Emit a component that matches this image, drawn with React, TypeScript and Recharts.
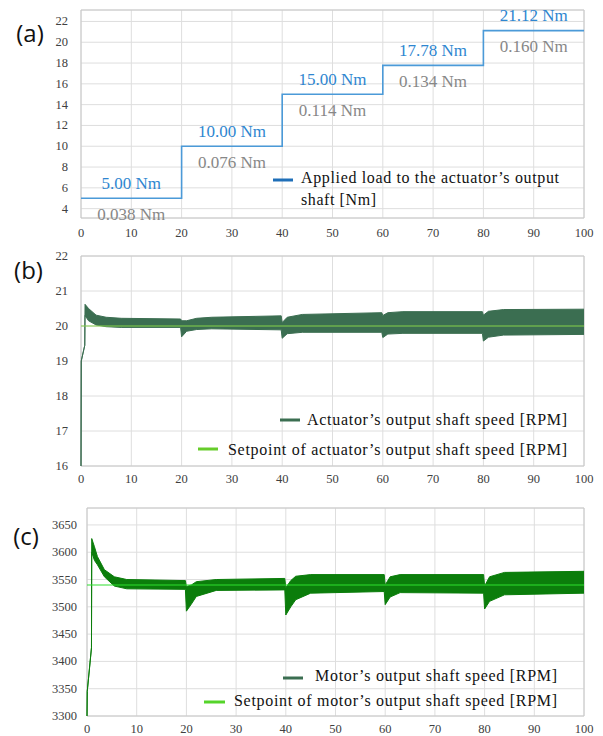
import { Area, CartesianGrid, ComposedChart, Legend, Line, ReferenceArea, ReferenceDot, XAxis, YAxis } from "recharts"

const timeTicks = [0, 10, 20, 30, 40, 50, 60, 70, 80, 90, 100]

// (a) applied load steps
const loadTimes = [0, 20, 40, 60, 80, 100]
const loadValues = [5, 10, 15, 17.78, 21.12, 21.12]
const loadLabels = ["5.00 Nm", "10.00 Nm", "15.00 Nm", "17.78 Nm", "21.12 Nm"]
const frictionLabels = ["0.038 Nm", "0.076 Nm", "0.114 Nm", "0.134 Nm", "0.160 Nm"]
const loadTicks = [4, 6, 8, 10, 12, 14, 16, 18, 20, 22]
const loadName = ["Applied load to the actuator’s output", "shaft [Nm]"]

// (b) actuator output shaft speed, envelope of the oscillation band
const actTimes = [0, 0.05, 0.75, 0.8, 1.5, 3, 5, 8, 19.8, 20, 21, 23, 26, 39.8, 40, 41, 44, 59.8, 60, 61, 64, 79.8, 80, 81, 84, 100]
const actLow = [16, 19, 19.45, 20.3, 20.15, 20.03, 19.98, 19.96, 19.96, 19.69, 19.85, 19.9, 19.92, 19.89, 19.65, 19.78, 19.82, 19.82, 19.67, 19.77, 19.79, 19.79, 19.57, 19.68, 19.74, 19.76]
const actHigh = [16, 19, 19.45, 20.62, 20.5, 20.31, 20.25, 20.22, 20.2, 20.15, 20.15, 20.22, 20.25, 20.29, 20.1, 20.25, 20.33, 20.38, 20.3, 20.38, 20.41, 20.41, 20.31, 20.42, 20.47, 20.48]
const actSetpoint = 20
const actTicks = [16, 17, 18, 19, 20, 21, 22]
const actName = "Actuator’s output shaft speed [RPM]"
const actSetName = "Setpoint of actuator’s output shaft speed [RPM]"

// (c) motor output shaft speed
const motTimes = [0, 0.05, 0.9, 0.95, 1.5, 2.1, 3.5, 5.5, 8, 19.8, 20, 21, 22, 26, 39.8, 40, 41, 42, 45, 59.8, 60, 61, 63, 79.8, 80, 81, 84, 100]
const motLow = [3300, 3345, 3425, 3600, 3585, 3577, 3555, 3538, 3533, 3532, 3492, 3505, 3519, 3530, 3531, 3485, 3500, 3513, 3525, 3528, 3504, 3518, 3526, 3525, 3496, 3510, 3522, 3525]
const motHigh = [3300, 3345, 3425, 3625, 3610, 3592, 3568, 3555, 3550, 3548, 3537, 3540, 3546, 3550, 3552, 3535, 3548, 3556, 3559, 3559, 3540, 3555, 3559, 3559, 3538, 3555, 3563, 3565]
const motSetpoint = 3540
const motTicks = [3300, 3350, 3400, 3450, 3500, 3550, 3600, 3650]
const motName = "Motor’s output shaft speed [RPM]"
const motSetName = "Setpoint of motor’s output shaft speed [RPM]"

const loadRows = loadTimes.map((t, i) => ({ t, load: loadValues[i] }))
const actRows = actTimes.map((t, i) => ({ t, band: [actLow[i], actHigh[i]], set: actSetpoint }))
const motRows = motTimes.map((t, i) => ({ t, band: [motLow[i], motHigh[i]], set: motSetpoint }))

const serif = "Liberation Serif"
const gridColor = "#dedede"
const frameColor = "#c8c8c8"

// tick renderers so the serif face is applied for sure
const xTick = (p: any) => (
  <text x={p.x} y={p.y} dy="0.71em" textAnchor="middle" fontFamily={serif} fontSize={12.5} fill="#404040">
    {p.payload.value}
  </text>
)
const yTick = (p: any) => (
  <text x={p.x} y={p.y} textAnchor="end" dominantBaseline="central" fontFamily={serif} fontSize={12.5} fill="#404040">
    {p.payload.value}
  </text>
)

const annot = (text: string, dy: number, fill: string) => (p: any) => (
  <text x={p.viewBox.x} y={p.viewBox.y + dy} textAnchor="middle" dominantBaseline="central" fontFamily={serif} fontSize={17} fill={fill}>
    {text}
  </text>
)

function LegendText({ x, y, len, children }: any) {
  return (
    <text x={x} y={y} dominantBaseline="central" fontFamily={serif} fontSize={16} fill="#111" textLength={len} lengthAdjust="spacing">
      {children}
    </text>
  )
}

function xAxis(margin: number) {
  return (
    <XAxis
      dataKey="t"
      type="number"
      domain={[0, 100]}
      ticks={timeTicks}
      interval={0}
      height={20}
      axisLine={false}
      tickLine={false}
      tickSize={0}
      tickMargin={margin}
      tick={xTick}
    />
  )
}

function LoadChart() {
  const dom = [3.1, 23.1]
  return (
    <ComposedChart width={603} height={245} data={loadRows} margin={{ top: 10, right: 19, bottom: 7, left: 0 }}>
      <CartesianGrid stroke={gridColor} />
      <ReferenceArea x1={0} x2={100} y1={dom[0]} y2={dom[1]} fill="none" stroke={frameColor} />
      {xAxis(10)}
      <YAxis type="number" domain={dom} ticks={loadTicks} interval={0} width={81} axisLine={false} tickLine={false} tickSize={0} tickMargin={13} tick={yTick} />
      <Line dataKey="load" name={loadName.join(" ")} type="stepAfter" stroke="#4b9ad8" strokeWidth={1.6} dot={false} isAnimationActive={false} />
      {loadLabels.map((txt, i) => (
        <ReferenceDot key={"b" + i} x={(loadTimes[i] + loadTimes[i + 1]) / 2} y={loadValues[i]} r={0} label={annot(txt, -15, "#2e86d0")} />
      ))}
      {frictionLabels.map((txt, i) => (
        <ReferenceDot key={"g" + i} x={(loadTimes[i] + loadTimes[i + 1]) / 2} y={loadValues[i]} r={0} label={annot(txt, 16, "#878787")} />
      ))}
      <Legend
        layout="horizontal"
        verticalAlign="middle"
        align="center"
        wrapperStyle={{ left: 0, top: 0, width: 603, height: 245, pointerEvents: "none" }}
        content={() => (
          <svg width={603} height={245} style={{ position: "absolute", left: 0, top: 0 }}>
            <line x1={273} x2={293} y1={180} y2={180} stroke="#1f6fb8" strokeWidth={3} />
            <LegendText x={301} y={177} len={258}>{loadName[0]}</LegendText>
            <LegendText x={301} y={199} len={75}>{loadName[1]}</LegendText>
          </svg>
        )}
      />
    </ComposedChart>
  )
}

function ActChart() {
  const dom = [16, 22]
  return (
    <ComposedChart width={603} height={245} data={actRows} margin={{ top: 11, right: 19, bottom: 4, left: 0 }}>
      <CartesianGrid stroke={gridColor} />
      <ReferenceArea x1={0} x2={100} y1={dom[0]} y2={dom[1]} fill="none" stroke={frameColor} />
      {xAxis(8)}
      <YAxis type="number" domain={dom} ticks={actTicks} interval={0} width={81} axisLine={false} tickLine={false} tickSize={0} tickMargin={13} tick={yTick} />
      <Area dataKey="band" name={actName} type="linear" stroke="#3b6e51" strokeWidth={1} fill="#3b6e51" fillOpacity={1} isAnimationActive={false} />
      <Line dataKey="set" name={actSetName} type="linear" stroke="#86d24a" strokeWidth={1.2} dot={false} isAnimationActive={false} />
      <Legend
        layout="horizontal"
        verticalAlign="middle"
        align="center"
        wrapperStyle={{ left: 0, top: 0, width: 603, height: 245, pointerEvents: "none" }}
        content={() => (
          <svg width={603} height={245} style={{ position: "absolute", left: 0, top: 0 }}>
            <line x1={280} x2={300} y1={175} y2={175} stroke="#3b6e51" strokeWidth={3} />
            <LegendText x={307} y={174} len={260}>{actName}</LegendText>
            <line x1={198} x2={218} y1={204} y2={204} stroke="#66cc2a" strokeWidth={3} />
            <LegendText x={228} y={204} len={339}>{actSetName}</LegendText>
          </svg>
        )}
      />
    </ComposedChart>
  )
}

function MotChart() {
  const dom = [3300, 3681]
  return (
    <ComposedChart width={603} height={246} data={motRows} margin={{ top: 18, right: 19, bottom: 0, left: 0 }}>
      <CartesianGrid stroke={gridColor} />
      <ReferenceArea x1={0} x2={100} y1={dom[0]} y2={dom[1]} fill="none" stroke={frameColor} />
      {xAxis(8)}
      <YAxis type="number" domain={dom} ticks={motTicks} interval={0} width={87} axisLine={false} tickLine={false} tickSize={0} tickMargin={10} tick={yTick} />
      <Area dataKey="band" name={motName} type="linear" stroke="#0b7d0b" strokeWidth={1} fill="#0b7d0b" fillOpacity={1} isAnimationActive={false} />
      <Line dataKey="set" name={motSetName} type="linear" stroke="#2fe02f" strokeWidth={1.2} dot={false} isAnimationActive={false} />
      <Legend
        layout="horizontal"
        verticalAlign="middle"
        align="center"
        wrapperStyle={{ left: 0, top: 0, width: 603, height: 246, pointerEvents: "none" }}
        content={() => (
          <svg width={603} height={246} style={{ position: "absolute", left: 0, top: 0 }}>
            <line x1={283} x2={303} y1={188} y2={188} stroke="#3b6e51" strokeWidth={3} />
            <LegendText x={315} y={185} len={242}>{motName}</LegendText>
            <line x1={204} x2={225} y1={212} y2={212} stroke="#55d42a" strokeWidth={3} />
            <LegendText x={234} y={210} len={323}>{motSetName}</LegendText>
          </svg>
        )}
      />
    </ComposedChart>
  )
}

export default function App() {
  const panelFont = { fontFamily: '"Open Sans", "Liberation Sans", sans-serif', fontSize: 24, fill: "#111" }
  return (
    <div style={{ position: "absolute", left: 0, top: 0, width: 603, height: 736, background: "#fff" }}>
      <div style={{ position: "absolute", left: 0, top: 0 }}>
        <LoadChart />
      </div>
      <div style={{ position: "absolute", left: 0, top: 245 }}>
        <ActChart />
      </div>
      <div style={{ position: "absolute", left: 0, top: 490 }}>
        <MotChart />
      </div>
      <svg width={603} height={736} style={{ position: "absolute", left: 0, top: 0, pointerEvents: "none" }}>
        <text x={30} y={32} textAnchor="middle" dominantBaseline="central" {...panelFont}>(a)</text>
        <text x={28.5} y={269} textAnchor="middle" dominantBaseline="central" {...panelFont}>(b)</text>
        <text x={26} y={535} textAnchor="middle" dominantBaseline="central" {...panelFont}>(c)</text>
      </svg>
    </div>
  )
}
